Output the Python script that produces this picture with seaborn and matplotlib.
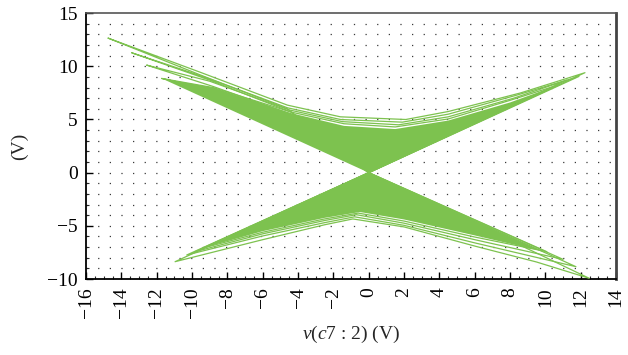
import matplotlib
matplotlib.use("Agg")
import matplotlib.pyplot as plt
import numpy as np
import pandas as pd
import seaborn as sns

# ---- data (volts) -------------------------------------------------------
# dense core of the attractor: upper chevron and lower chevron
core_top_x = [0.0, -11.72, -8.8, -4.4, -1.4, 1.5, 4.5, 8.0, 10.83, 11.6, 0.0]
core_top_y = [0.0, 8.86, 8.0, 5.6, 4.4, 4.1, 4.9, 6.6, 8.3, 8.9, 0.0]
core_bot_x = [0.0, -9.2, -6.0, -2.5, -0.5, 2.0, 6.0, 9.6, 10.08, 0.0]
core_bot_y = [0.0, -7.0, -5.5, -4.25, -3.7, -4.4, -5.9, -7.3, -7.6, 0.0]

# outer orbits of the trajectory, traced vertex by vertex
loop_a_x = [-14.75, -9.55, -4.6, -1.6, 2.1, 4.5, 8.6, 12.24, 0.0, -10.96, -6.0, -2.5, -0.9, 2.0, 6.0, 9.5, 12.48, 0.0, -4.6, -9.55, -14.75]
loop_a_y = [12.65, 9.45, 6.35, 5.25, 5.0, 5.75, 7.5, 9.4, 0.0, -8.37, -6.3, -4.9, -4.35, -5.1, -6.9, -8.4, -9.93, 0.0, 6.0, 9.2, 12.65]
loop_b_x = [-13.41, -9.3, -4.6, -1.6, 1.9, 4.5, 8.4, 11.9, 0.0, -10.3, -6.0, -2.5, -0.8, 2.0, 6.0, 11.73, 0.0, -4.4, -9.0, -13.41]
loop_b_y = [11.27, 9.0, 6.1, 5.0, 4.75, 5.5, 7.3, 9.05, 0.0, -7.74, -5.95, -4.7, -4.15, -4.95, -6.6, -8.84, 0.0, 5.7, 8.7, 11.27]
loop_c_x = [-12.56, -9.0, -4.5, -1.5, 1.7, 4.5, 8.2, 11.2, 0.0, -9.83, -6.0, -2.5, -0.7, 2.0, 6.0, 11.0, 0.0, -4.4, -8.8, -12.56]
loop_c_y = [10.11, 8.6, 5.9, 4.8, 4.5, 5.25, 7.0, 8.7, 0.0, -7.43, -5.75, -4.5, -3.95, -4.75, -6.3, -8.15, 0.0, 5.5, 8.1, 10.11]
loop_d_x = [-11.72, -8.8, -4.4, -1.4, 1.5, 4.5, 8.0, 10.83, 0.0, -9.4, -6.0, -2.5, -0.6, 2.0, 6.0, 10.08, 0.0, -4.4, -8.6, -11.72]
loop_d_y = [8.86, 8.0, 5.7, 4.6, 4.3, 5.05, 6.8, 8.3, 0.0, -7.1, -5.6, -4.35, -3.8, -4.55, -6.05, -7.43, 0.0, 5.3, 7.7, 8.86]

x_ticks = list(range(-16, 15, 2))
y_ticks = list(range(-10, 16, 5))

GREEN = "#7DC24F"

# ---- style ---------------------------------------------------------------
sns.set_style("ticks")
plt.rcParams["font.family"] = ["Liberation Serif", "DejaVu Serif"]
plt.rcParams["mathtext.fontset"] = "custom"
plt.rcParams["mathtext.rm"] = "Liberation Serif"
plt.rcParams["mathtext.it"] = "Liberation Serif:italic"

fig = plt.figure(figsize=(6.28, 3.55), dpi=100)
ax = fig.add_axes([0.137, 0.214, 0.844, 0.749])

# dotted background lattice
for yv in range(-9, 15):
    ax.axhline(yv, color="#3a3a3a", lw=0.9, ls=(0, (1.0, 8.3)), zorder=0)

ax.fill(core_top_x, core_top_y, color=GREEN, lw=0, zorder=2)
ax.fill(core_bot_x, core_bot_y, color=GREEN, lw=0, zorder=2)

loops = [(loop_a_x, loop_a_y), (loop_b_x, loop_b_y), (loop_c_x, loop_c_y), (loop_d_x, loop_d_y)]
frames = []
for k, (lx, ly) in enumerate(loops):
    frames.append(pd.DataFrame({"x": lx, "y": ly, "loop": k, "order": range(len(lx))}))
df = pd.concat(frames, ignore_index=True)
sns.lineplot(data=df, x="x", y="y", units="loop", estimator=None, sort=False,
             color=GREEN, lw=0.9, ax=ax, legend=False, zorder=3)

ax.set_xlim(-16, 14)
ax.set_ylim(-10, 15)
ax.set_xticks(x_ticks)
ax.set_yticks(y_ticks)
ax.set_xticklabels([f"\u2212{abs(v)}" if v < 0 else str(v) for v in x_ticks], rotation=90)
ax.set_yticklabels([f"\u2212{abs(v)}" if v < 0 else str(v) for v in y_ticks])
ax.set_xticks(np.arange(-16, 14.01, 0.5), minor=True)
ax.set_yticks(np.arange(-10, 15.01, 1), minor=True)
ax.tick_params(axis="both", which="major", direction="in", length=5, width=1.0,
               labelsize=14, colors="black", pad=6)
ax.tick_params(axis="both", which="minor", direction="in", length=2.5, width=0.8)
ax.tick_params(top=False, right=False, which="both")

for side in ["left", "bottom"]:
    ax.spines[side].set_color("black")
    ax.spines[side].set_linewidth(1.3)
ax.spines["top"].set_color("#555555")
ax.spines["top"].set_linewidth(1.2)
ax.spines["right"].set_color("#444444")
ax.spines["right"].set_linewidth(2.0)

ax.set_xlabel(r"$v$($c$7 : 2) (V)", fontsize=14, labelpad=4)
ax.set_ylabel("(V)", fontsize=14, labelpad=14)

fig.savefig("out.png", dpi=100)
